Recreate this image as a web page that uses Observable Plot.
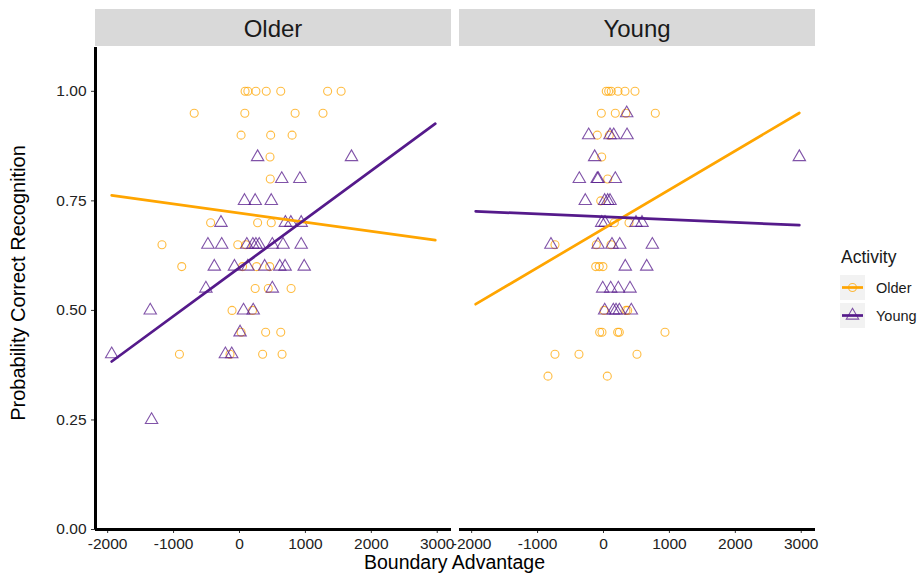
<!DOCTYPE html>
<html><head><meta charset="utf-8">
<script src="https://cdn.jsdelivr.net/npm/d3@7"></script>
<script src="https://cdn.jsdelivr.net/npm/@observablehq/plot@0.6"></script>
<style>
body{margin:0;background:#fff;font-family:"Liberation Sans",Arial,sans-serif;}
#wrap{position:relative;width:921px;height:574px;overflow:hidden;background:#fff;}
#legend{position:absolute;left:840px;top:247px;color:#1a1a1a;}
#legend .title{font-size:17.5px;margin:0 0 7px 1px;}
#legend .row{display:flex;align-items:center;height:25px;margin-bottom:3px;}
#legend .row span{font-size:14.5px;margin-left:11px;}
</style></head><body><div id="wrap"><div id="legend"></div></div>
<script>
// ---------------- data ----------------
const facets = ["Older", "Young"];
const activities = ["Older", "Young"];
const activityColors = ["#FFA500", "#551A8B"];
const xTicks = [-2000, -1000, 0, 1000, 2000, 3000];
const yTicks = [0, 0.25, 0.5, 0.75, 1];

// Facet "Older", activity Older (circles)
const olderPanelOlderX = [85,127,249,406,626,1337,1542, -687,81,844,1267, 24,473,798, 463, 467, -438,275,482, -1176,-26,96, -876,46,260,458, 238,437,783, -113,198, 24,397,626, -911,-144,351,646];
const olderPanelOlderY = [1,1,1,1,1,1,1, .95,.95,.95,.95, .9,.9,.9, .85, .8, .7,.7,.7, .65,.65,.65, .6,.6,.6,.6, .55,.55,.55, .5,.5, .45,.45,.45, .4,.4,.4,.4];
// Facet "Older", activity Young (triangles)
const olderPanelYoungX = [275,1699, 641,916, 76,238,482, -281,696,779,936, -479,-270,111,203,249,299,498,661,936, -382,-76,127,382,611,692,982, -510,498, -1354,61,208, 9, -1939,-214,-118, -1334];
const olderPanelYoungY = [.85,.85, .8,.8, .75,.75,.75, .7,.7,.7,.7, .65,.65,.65,.65,.65,.65,.65,.65,.65, .6,.6,.6,.6,.6,.6,.6, .55,.55, .5,.5,.5, .45, .4,.4,.4, .25];
// Facet "Young", activity Older (circles)
const youngPanelOlderX = [42,79,118,220,326,478, -33,179,341,786, -94,88, -27, 64, -42, 164,387, -736,-109,114, -118,-64,-8, 8,341,367, -58,-23,215,240,933, -736,-372,508, -842,58];
const youngPanelOlderY = [1,1,1,1,1,1, .95,.95,.95,.95, .9,.9, .85, .8, .75, .7,.7, .65,.65,.65, .6,.6,.6, .5,.5,.5, .45,.45,.45,.45,.45, .4,.4,.4, .35,.35];
// Facet "Young", activity Young (triangles)
const youngPanelYoungX = [352, -225,99,155,357, -134,2971, -367,-95,-80,179, -276,18,64,99, -27,23,493,584, -797,-83,129,246,741, 331,656, -12,109,225,402, 18,149,190,240,422];
const youngPanelYoungY = [.95, .9,.9,.9,.9, .85,.85, .8,.8,.8,.8, .75,.75,.75,.75, .7,.7,.7,.7, .65,.65,.65,.65,.65, .6,.6, .55,.55,.55,.55, .5,.5,.5,.5,.5];

// linear fits: per facet x activity
const fitFacet = ["Older", "Older", "Young", "Young"];
const fitActivity = ["Older", "Young", "Older", "Young"];
const fitIntercept = [0.7221, 0.5977, 0.6865, 0.7137];
const fitSlope = [-2.079e-5, 1.1054e-4, 8.889e-5, -6.41e-6];

// ---------------- build tables ----------------
function rows(facet, activity, xs, ys) {
  return xs.map((x, i) => ({facet, activity, x, y: ys[i]}));
}
const points = [
  ...rows("Older", "Older", olderPanelOlderX, olderPanelOlderY),
  ...rows("Older", "Young", olderPanelYoungX, olderPanelYoungY),
  ...rows("Young", "Older", youngPanelOlderX, youngPanelOlderY),
  ...rows("Young", "Young", youngPanelYoungX, youngPanelYoungY)
];
const [xMin, xMax] = d3.extent(points, d => d.x);
const pad = (xMax - xMin) * 0.05;
const xDomain = [xMin - pad, xMax + pad];
const fitLines = fitFacet.flatMap((f, i) => [xMin, xMax].map(x => ({
  facet: f, activity: fitActivity[i], x, y: fitIntercept[i] + fitSlope[i] * x
})));
const circles = points.filter(d => d.activity === "Older");
const triangles = points.filter(d => d.activity === "Young");

// ---------------- plot ----------------
const plot = Plot.plot({
  width: 921, height: 574,
  marginLeft: 94, marginRight: 106, marginTop: 47, marginBottom: 45,
  style: {fontFamily: "'Liberation Sans', Arial, sans-serif", fontSize: "15.5px", color: "#222", background: "white", overflow: "visible"},
  fx: {domain: facets, paddingInner: 0.022, paddingOuter: 0, axis: null, label: null},
  x: {domain: xDomain},
  y: {domain: [0, 1.1]},
  color: {domain: activities, range: activityColors},
  marks: [
    Plot.axisX({ticks: xTicks, tickFormat: d => String(d), tickSize: 4, tickPadding: 4, fontSize: 15.5, label: null, stroke: "#333"}),
    Plot.axisY({ticks: yTicks, tickFormat: d3.format(".2f"), tickSize: 4, tickPadding: 5, fontSize: 15.5, label: null, stroke: "#333"}),
    Plot.dot(circles, {x: "x", y: "y", fx: "facet", stroke: "activity", symbol: "circle", r: 4, strokeWidth: 1.1, strokeOpacity: 0.75}),
    Plot.dot(triangles, {x: "x", y: "y", fx: "facet", stroke: "activity", symbol: "triangle", r: 4.6, strokeWidth: 1.1, strokeOpacity: 0.75}),
    Plot.line(fitLines, {x: "x", y: "y", fx: "facet", z: "activity", stroke: "activity", strokeWidth: 2.7}),
    Plot.ruleY([0], {stroke: "black", strokeWidth: 3}),
    Plot.ruleX([{facet: "Older"}], {x: () => xDomain[0], fx: "facet", y1: 0, y2: 1.1, stroke: "black", strokeWidth: 3})
  ]
});

const svg = d3.select(plot);
// facet strips
const fs = plot.scale("fx");
const band = d3.scaleBand().domain(fs.domain).range(fs.range)
  .paddingInner(fs.paddingInner ?? 0).paddingOuter(fs.paddingOuter ?? 0).align(fs.align ?? 0.5).round(!!fs.round);
const strips = svg.append("g");
for (const f of facets) {
  strips.append("rect").attr("x", band(f)).attr("y", 9).attr("width", band.bandwidth()).attr("height", 37).attr("fill", "#D9D9D9");
  strips.append("text").attr("x", band(f) + band.bandwidth() / 2).attr("y", 28)
    .attr("text-anchor", "middle").attr("dominant-baseline", "central")
    .attr("font-size", 24).attr("fill", "#1a1a1a").text(f);
}
// axis titles
const r0 = fs.range;
svg.append("text").attr("x", (r0[0] + r0[1]) / 2).attr("y", 569).attr("text-anchor", "middle")
  .attr("font-size", 19.5).attr("fill", "#000").text("Boundary Advantage");
svg.append("text").attr("transform", "translate(18,283) rotate(-90)").attr("text-anchor", "middle")
  .attr("dominant-baseline", "central").attr("font-size", 20).attr("fill", "#000").text("Probability Correct Recognition");

document.getElementById("wrap").prepend(plot);

// legend
const lg = d3.select("#legend");
lg.append("div").attr("class", "title").text("Activity");
activities.forEach((a, i) => {
  const row = lg.append("div").attr("class", "row");
  const s = row.append("svg").attr("width", 25).attr("height", 25);
  s.append("rect").attr("width", 25).attr("height", 25).attr("fill", "#F2F2F2");
  s.append("line").attr("x1", 2).attr("x2", 23).attr("y1", 12.5).attr("y2", 12.5).attr("stroke", activityColors[i]).attr("stroke-width", 2.7);
  s.append("path").attr("transform", "translate(12.5,12.5)")
    .attr("d", d3.symbol(i === 0 ? d3.symbolCircle : d3.symbolTriangle, (i === 0 ? 4 : 4.6) ** 2 * Math.PI)())
    .attr("fill", "none").attr("stroke", activityColors[i]).attr("stroke-opacity", 0.75).attr("stroke-width", 1.1);
  row.append("span").text(a);
});
</script></body></html>
